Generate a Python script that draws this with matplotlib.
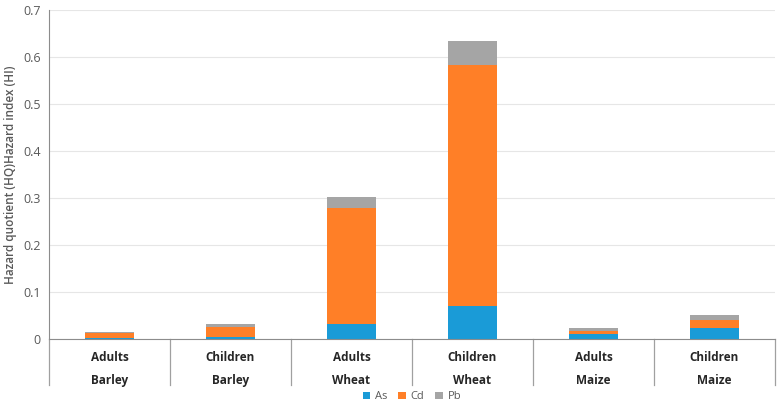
import matplotlib.pyplot as plt
import numpy as np

# groups shown along the x axis (two label rows)
groups = ['Adults', 'Children', 'Adults', 'Children', 'Adults', 'Children']
crops = ['Barley', 'Barley', 'Wheat', 'Wheat', 'Maize', 'Maize']

# stacked hazard quotients per metal
hq_as = [0.002, 0.004, 0.032, 0.070, 0.010, 0.024]
hq_cd = [0.011, 0.0215, 0.246, 0.513, 0.008, 0.016]
hq_pb = [0.0015, 0.0055, 0.024, 0.050, 0.005, 0.011]

colors = ['#1a9bd7', '#ff7f27', '#a5a5a5']
plt.rcParams['font.family'] = ['Open Sans', 'DejaVu Sans']

fig = plt.figure(figsize=(7.8, 4.07), dpi=100)
ax = fig.add_axes([49 / 780, 68 / 407, 726 / 780, 329 / 407])

x = np.arange(len(groups))
width = 0.4
b1 = np.array(hq_as)
b2 = b1 + np.array(hq_cd)
ax.bar(x, hq_as, width, color=colors[0], label='As', zorder=2)
ax.bar(x, hq_cd, width, bottom=b1, color=colors[1], label='Cd', zorder=2)
ax.bar(x, hq_pb, width, bottom=b2, color=colors[2], label='Pb', zorder=2)

ax.set_xlim(-0.5, len(groups) - 0.5)
ax.set_ylim(0, 0.7)
ax.set_yticks(np.arange(0, 0.71, 0.1))
ax.set_yticklabels(['0'] + ['%.1f' % v for v in np.arange(0.1, 0.71, 0.1)])
ax.tick_params(axis='y', length=0, colors='#595959', labelsize=9, pad=6)
ax.set_xticks([])
ax.grid(axis='y', color='#e6e6e6', linewidth=0.8, zorder=0)

for s in ['top', 'right']:
    ax.spines[s].set_visible(False)
ax.spines['left'].set_color('#8c8c8c')
ax.spines['bottom'].set_color('#8c8c8c')

ax.set_ylabel('Hazard quotient (HQ)Hazard index (HI)', fontsize=8.5,
              color='#595959', labelpad=4, fontweight='semibold')

# two-level category labels and separators
trans = ax.get_xaxis_transform()
for i in range(len(groups)):
    ax.text(x[i], -0.055, groups[i], transform=trans, ha='center', va='center',
            fontsize=8.5, fontweight='bold', color='#262626')
    ax.text(x[i], -0.125, crops[i], transform=trans, ha='center', va='center',
            fontsize=8.5, fontweight='bold', color='#262626')
for b in np.arange(-0.5, len(groups), 1.0):
    ax.plot([b, b], [0, -0.14], transform=trans, color='#a0a0a0',
            linewidth=0.9, clip_on=False)

ax.legend(loc='center', bbox_to_anchor=(0.5, -0.176), ncol=3,
          frameon=False, fontsize=8, handlelength=0.7, handleheight=0.7,
          columnspacing=1.0, handletextpad=0.4, labelcolor='#595959',
          borderpad=0.1)

fig.savefig('out.png', dpi=100)
